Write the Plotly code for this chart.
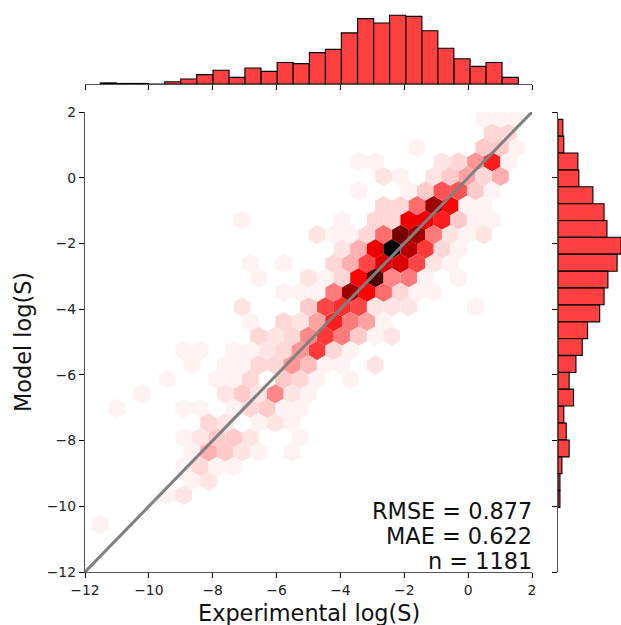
import plotly.graph_objects as go

# Hexbin cells: centre x, centre y, count (row by row)
hex_x = [
    0.49, 1.01, 1.53,
    0.75, 1.27,
    -1.60, 0.49, 1.01, 1.53,
    -3.43, -2.91, -0.82, -0.30, 0.23, 0.75, 1.27,
    -2.65, -2.12, -1.08, -0.56, -0.04, 0.49, 1.01,
    -3.43, -1.86, -1.34, -0.82, -0.30, 0.23, 0.75,
    -2.65, -2.12, -1.60, -1.08, -0.56, -0.04, 0.49,
    -7.08, -3.95, -2.91, -2.39, -1.86, -1.34, -0.82, -0.30, 0.23, 0.75,
    -4.73, -4.21, -3.69, -3.17, -2.65, -2.12, -1.60, -1.08, -0.56, -0.04, 0.49,
    -3.95, -3.43, -2.91, -2.39, -1.86, -1.34, -0.82, -0.30,
    -6.82, -5.78, -4.21, -3.69, -3.17, -2.65, -2.12, -1.60, -1.08, -0.56,
    -6.56, -5.00, -4.47, -3.95, -3.43, -2.91, -2.39, -1.86, -1.34, -0.30,
    -5.78, -5.26, -4.73, -4.21, -3.69, -3.17, -2.65, -2.12, -1.60, -1.08,
    -7.08, -5.00, -4.47, -3.95, -3.43, -2.91, -2.39, -1.86, 0.23,
    -6.82, -5.78, -5.26, -4.73, -4.21, -3.69, -3.17, -2.65,
    -6.56, -6.04, -5.52, -5.00, -4.47, -3.95, -3.43, -2.91, -2.39,
    -8.91, -8.39, -7.34, -6.82, -6.30, -5.78, -5.26, -4.73, -4.21, -3.69,
    -8.65, -7.61, -7.08, -6.56, -6.04, -5.52, -5.00, -4.47, -3.95, -2.91,
    -9.43, -7.87, -7.34, -6.82, -5.78, -5.26, -4.73, -3.69,
    -10.22, -7.61, -7.08, -6.56, -6.04, -5.52, -5.00,
    -11.00, -8.91, -8.39, -7.34, -6.82, -6.30, -5.78, -5.26,
    -8.13, -7.61, -6.56, -6.04, -5.52,
    -8.91, -8.39, -7.87, -7.34, -6.82, -5.26,
    -8.65, -8.13, -7.61, -7.08, -6.56, -5.52,
    -8.91, -8.39, -7.87, -7.34,
    -8.65, -8.13,
    -9.43, -8.91,
    -11.52,
]
hex_y = (
    [1.80] * 3 + [1.36] * 2 + [0.92] * 4 + [0.48] * 7 + [0.04] * 7 + [-0.40] * 7
    + [-0.85] * 7 + [-1.29] * 10 + [-1.73] * 11 + [-2.17] * 8 + [-2.61] * 10
    + [-3.05] * 10 + [-3.49] * 10 + [-3.93] * 9 + [-4.38] * 8 + [-4.82] * 9
    + [-5.26] * 10 + [-5.70] * 10 + [-6.14] * 8 + [-6.58] * 7 + [-7.02] * 8
    + [-7.46] * 5 + [-7.91] * 6 + [-8.35] * 6 + [-8.79] * 4 + [-9.23] * 2
    + [-9.67] * 2 + [-10.55] * 1
)
hex_n = [
    1, 1, 1,
    3, 3,
    1, 4, 4, 1,
    1, 1, 2, 3, 8, 17, 1,
    2, 1, 2, 4, 7, 3, 6,
    1, 1, 4, 13, 13, 4, 1,
    3, 3, 11, 24, 19, 1, 1,
    1, 1, 3, 3, 20, 20, 17, 4, 1, 1,
    2, 1, 1, 3, 11, 26, 24, 10, 2, 1, 2,
    2, 6, 20, 32, 23, 15, 3, 1,
    1, 1, 3, 6, 14, 21, 21, 14, 2, 1,
    1, 2, 1, 3, 19, 28, 9, 10, 1, 1,
    1, 1, 1, 10, 24, 19, 11, 3, 1, 1,
    2, 4, 14, 16, 14, 2, 2, 2, 1,
    1, 3, 2, 7, 17, 10, 7, 1,
    3, 2, 3, 9, 15, 10, 4, 1, 2,
    1, 1, 1, 1, 2, 3, 8, 15, 3, 1,
    1, 1, 1, 3, 3, 8, 5, 1, 1, 2,
    1, 1, 1, 3, 4, 3, 1, 1,
    1, 2, 4, 2, 9, 2, 1,
    1, 1, 1, 1, 3, 4, 1, 1,
    3, 2, 1, 2, 1,
    1, 2, 4, 4, 2, 1,
    1, 6, 4, 2, 1, 1,
    1, 3, 1, 1,
    1, 2,
    1, 2,
    1,
]

# Marginal histogram of experimental values
exp_centres = [-11.27, -10.76, -10.26, -9.76, -9.25, -8.75, -8.25, -7.74, -7.24, -6.74,
               -6.23, -5.73, -5.23, -4.72, -4.22, -3.72, -3.21, -2.71, -2.21, -1.70,
               -1.20, -0.70, -0.19, 0.31, 0.81, 1.32]
exp_counts = [2, 1, 1, 0, 4, 9, 17, 25, 12, 29, 23, 39, 37, 57, 63, 93, 119, 111, 125, 123,
              97, 65, 46, 32, 39, 12]

# Marginal histogram of model values
mod_centres = [1.52, 1.01, 0.495, -0.018, -0.53, -1.05, -1.56, -2.07, -2.59, -3.10, -3.61,
               -4.13, -4.64, -5.15, -5.67, -6.18, -6.69, -7.21, -7.72, -8.24, -8.75, -9.26, -9.78]
mod_counts = [10, 12, 41, 43, 72, 95, 101, 130, 122, 103, 95, 86, 61, 50, 37, 23, 32, 12, 17,
              23, 8, 4, 4]

parity = [-12, 2]
stats_text = ["RMSE = 0.877", "MAE = 0.622", "n = 1181"]
x_label = "Experimental log(S)"
y_label = "Model log(S)"

W, H = 621, 625
L, R, T, B = 85, 532, 112, 572
FONT = "DejaVu Sans"
SPINE = "#555555"

fig = go.Figure()
fig.add_trace(go.Scatter(
    x=hex_x, y=hex_y, mode="markers", hoverinfo="skip",
    marker=dict(symbol="hexagon", size=19.3, color=hex_n, cmin=0, cmax=32,
                colorscale=[[0, "#ffffff"], [0.6, "#ff0000"], [1, "#000000"]],
                line=dict(width=0), opacity=1),
))
fig.add_trace(go.Scatter(x=parity, y=parity, mode="lines",
                         line=dict(color="#808080", width=3), hoverinfo="skip"))
fig.add_trace(go.Bar(x=exp_centres, y=exp_counts, width=0.5035, xaxis="x2", yaxis="y2",
                     marker=dict(color="rgba(255,0,0,0.75)", line=dict(color="#000000", width=1.1))))
fig.add_trace(go.Bar(y=mod_centres, x=mod_counts, width=0.5134, orientation="h",
                     xaxis="x3", yaxis="y3",
                     marker=dict(color="rgba(255,0,0,0.75)", line=dict(color="#000000", width=1.1))))

tick_common = dict(range=[-12, 2], tick0=0, dtick=2, ticks="outside", ticklen=5, tickwidth=1,
                   tickcolor="#000000", showgrid=False, zeroline=False, showline=True,
                   linecolor=SPINE, linewidth=1.4)

annotations = [
    dict(text=t, x=534 / W, y=1 - yp / H, xref="paper", yref="paper",
         xanchor="right", yanchor="middle", showarrow=False,
         font=dict(family=FONT, size=22.4, color="#111111"))
    for t, yp in zip(stats_text + [x_label], [511, 536, 561, 612.5])
]
annotations[3].update(x=(L + R) / 2 / W, xanchor="center")

fig.update_layout(
    width=W, height=H, margin=dict(l=0, r=0, t=0, b=0, autoexpand=False),
    paper_bgcolor="white", plot_bgcolor="white", showlegend=False, barmode="overlay",
    font=dict(family=FONT, color="#222222"),
    xaxis=dict(domain=[L / W, R / W], anchor="y", tickfont=dict(size=13.9), **tick_common),
    yaxis=dict(domain=[1 - B / H, 1 - T / H], anchor="x", tickfont=dict(size=13.9),
               title=dict(text=y_label, font=dict(size=22.4, color="#111111"), standoff=8), **tick_common),
    xaxis2=dict(domain=[L / W, R / W], anchor="y2", showticklabels=False, **tick_common),
    yaxis2=dict(domain=[1 - 84 / H, 1 - 12 / H], anchor="x2", range=[0, 131], visible=False),
    yaxis3=dict(domain=[1 - B / H, 1 - T / H], anchor="x3", showticklabels=False, side="left",
                **tick_common),
    xaxis3=dict(domain=[558 / W, 1], anchor="y3", range=[0, 130], visible=False),
    annotations=annotations,
)

fig.write_html("out.html", config=dict(displayModeBar=False),
               post_script="document.body.style.margin='0';document.body.style.overflow='hidden';")
